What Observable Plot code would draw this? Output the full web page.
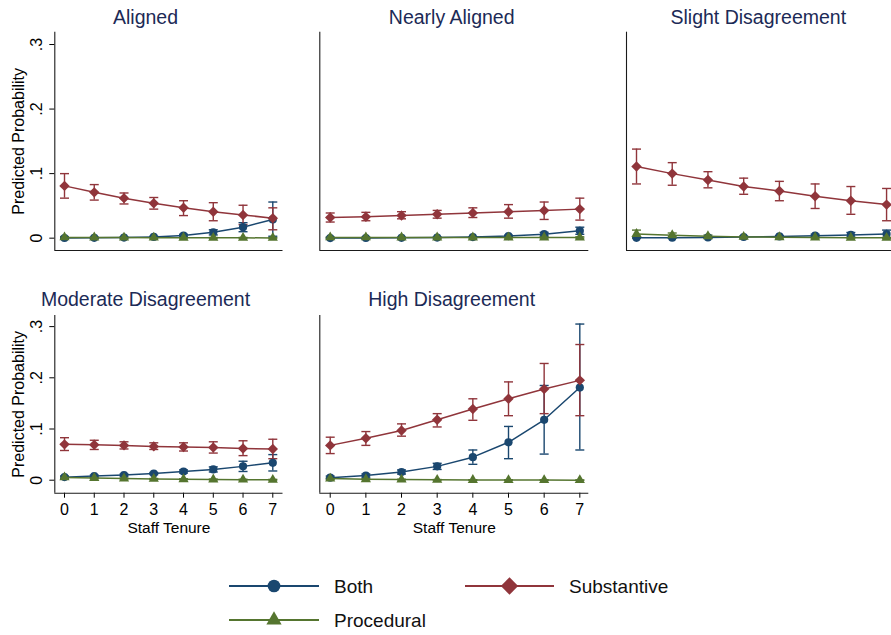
<!DOCTYPE html>
<html>
<head>
<meta charset="utf-8">
<script src="https://cdn.jsdelivr.net/npm/d3@7"></script>
<script src="https://cdn.jsdelivr.net/npm/@observablehq/plot@0.6"></script>
<style>
  html, body { margin: 0; padding: 0; background: #fff; }
  body { width: 891px; height: 635px; overflow: hidden; position: relative;
         font-family: "Liberation Sans", Arial, Helvetica, sans-serif; }
  .panel { position: absolute; }
  .title { position: absolute; width: 300px; text-align: center; font-size: 19.5px;
           line-height: 19.5px; color: #1c2a56; white-space: nowrap; }
  #legend { position: absolute; left: 0; top: 560px; }
</style>
</head>
<body>
<script>
// ---------------- DATA ----------------
const tenure = [0, 1, 2, 3, 4, 5, 6, 7];
const seriesNames = ["Both", "Substantive", "Procedural"];
const panelTitles = ["Aligned", "Nearly Aligned", "Slight Disagreement", "Moderate Disagreement", "High Disagreement"];
const yTicks = [0, 0.1, 0.2, 0.3];
const yTickLabels = ["0", ".1", ".2", ".3"];
const xTitle = "Staff Tenure";
const yTitle = "Predicted Probability";

// Aligned
const aligned_both     = [0.0003, 0.0005, 0.001, 0.002, 0.004, 0.009, 0.017, 0.029];
const aligned_both_lo  = [0.0000, 0.0001, 0.0003, 0.001, 0.002, 0.005, 0.010, 0.003];
const aligned_both_hi  = [0.0006, 0.0009, 0.0017, 0.003, 0.006, 0.013, 0.024, 0.056];
const aligned_subst    = [0.081, 0.071, 0.062, 0.054, 0.047, 0.041, 0.036, 0.031];
const aligned_subst_lo = [0.062, 0.059, 0.053, 0.045, 0.035, 0.027, 0.021, 0.013];
const aligned_subst_hi = [0.100, 0.083, 0.070, 0.063, 0.058, 0.055, 0.051, 0.047];
const aligned_proc     = [0.0012, 0.0010, 0.0009, 0.0008, 0.0007, 0.0006, 0.0005, 0.0004];
const aligned_proc_lo  = [0.0000, 0.0002, 0.0003, 0.0003, 0.0002, 0.0001, 0.0000, 0.0000];
const aligned_proc_hi  = [0.0025, 0.0019, 0.0015, 0.0013, 0.0012, 0.0011, 0.0011, 0.0010];

// Nearly Aligned
const nearly_both     = [0.0002, 0.0003, 0.0005, 0.0009, 0.0017, 0.0033, 0.0062, 0.0115];
const nearly_both_lo  = [0.0000, 0.0001, 0.0002, 0.0005, 0.0010, 0.0020, 0.0035, 0.0060];
const nearly_both_hi  = [0.0005, 0.0006, 0.0009, 0.0013, 0.0024, 0.0046, 0.0090, 0.0170];
const nearly_subst    = [0.032, 0.033, 0.035, 0.037, 0.039, 0.041, 0.043, 0.045];
const nearly_subst_lo = [0.025, 0.027, 0.030, 0.031, 0.032, 0.031, 0.029, 0.028];
const nearly_subst_hi = [0.039, 0.040, 0.041, 0.043, 0.047, 0.052, 0.056, 0.062];
const nearly_proc     = [0.0012, 0.0012, 0.0011, 0.0011, 0.0011, 0.0011, 0.0011, 0.0011];
const nearly_proc_lo  = [0.0004, 0.0005, 0.0005, 0.0005, 0.0004, 0.0003, 0.0002, 0.0001];
const nearly_proc_hi  = [0.0020, 0.0019, 0.0017, 0.0017, 0.0018, 0.0019, 0.0020, 0.0021];

// Slight Disagreement
const slight_both     = [0.0005, 0.0008, 0.0012, 0.0018, 0.0027, 0.0038, 0.0050, 0.0065];
const slight_both_lo  = [0.0000, 0.0002, 0.0005, 0.0009, 0.0013, 0.0015, 0.0012, 0.0005];
const slight_both_hi  = [0.0012, 0.0014, 0.0019, 0.0027, 0.0041, 0.0061, 0.0088, 0.0125];
const slight_subst    = [0.111, 0.100, 0.090, 0.080, 0.073, 0.065, 0.058, 0.052];
const slight_subst_lo = [0.084, 0.082, 0.078, 0.068, 0.058, 0.046, 0.037, 0.027];
const slight_subst_hi = [0.138, 0.117, 0.103, 0.093, 0.088, 0.084, 0.080, 0.077];
const slight_proc     = [0.0065, 0.0045, 0.0030, 0.0020, 0.0014, 0.0010, 0.0007, 0.0005];
const slight_proc_lo  = [0.0005, 0.0010, 0.0012, 0.0008, 0.0004, 0.0001, 0.0000, 0.0000];
const slight_proc_hi  = [0.0125, 0.0080, 0.0048, 0.0032, 0.0024, 0.0019, 0.0016, 0.0013];

// Moderate Disagreement
const moderate_both     = [0.006, 0.008, 0.010, 0.013, 0.017, 0.021, 0.027, 0.034];
const moderate_both_lo  = [0.004, 0.006, 0.008, 0.011, 0.014, 0.016, 0.017, 0.018];
const moderate_both_hi  = [0.008, 0.010, 0.012, 0.015, 0.020, 0.026, 0.037, 0.050];
const moderate_subst    = [0.070, 0.069, 0.068, 0.066, 0.065, 0.064, 0.062, 0.061];
const moderate_subst_lo = [0.058, 0.060, 0.061, 0.060, 0.057, 0.053, 0.048, 0.042];
const moderate_subst_hi = [0.083, 0.078, 0.075, 0.073, 0.073, 0.075, 0.077, 0.080];
const moderate_proc     = [0.0055, 0.0043, 0.0033, 0.0025, 0.0019, 0.0014, 0.0011, 0.0008];
const moderate_proc_lo  = [0.0035, 0.0030, 0.0024, 0.0017, 0.0011, 0.0006, 0.0003, 0.0001];
const moderate_proc_hi  = [0.0075, 0.0056, 0.0042, 0.0033, 0.0027, 0.0022, 0.0019, 0.0016];

// High Disagreement
const high_both     = [0.005, 0.009, 0.016, 0.027, 0.045, 0.074, 0.118, 0.181];
const high_both_lo  = [0.003, 0.006, 0.012, 0.021, 0.031, 0.042, 0.051, 0.059];
const high_both_hi  = [0.008, 0.012, 0.020, 0.033, 0.059, 0.105, 0.185, 0.305];
const high_subst    = [0.068, 0.082, 0.097, 0.118, 0.139, 0.159, 0.178, 0.195];
const high_subst_lo = [0.052, 0.068, 0.086, 0.104, 0.117, 0.126, 0.130, 0.126];
const high_subst_hi = [0.084, 0.095, 0.110, 0.130, 0.159, 0.192, 0.228, 0.265];
const high_proc     = [0.0032, 0.0020, 0.0012, 0.0008, 0.0005, 0.0003, 0.0002, 0.0001];
const high_proc_lo  = [0.0018, 0.0012, 0.0006, 0.0003, 0.0001, 0.0000, 0.0000, 0.0000];
const high_proc_hi  = [0.0046, 0.0028, 0.0018, 0.0013, 0.0009, 0.0007, 0.0005, 0.0004];

// ---------------- STYLE ----------------
const colors = ["#1a476f", "#90353b", "#55752f"];
const symbols = ["circle", "diamond2", "triangle"];
const symbolR = [4.1, 4.7, 3.8];
const FONT = '"Liberation Sans", Arial, Helvetica, sans-serif';

const capSymbol = { draw(ctx, size) { const w = Math.sqrt(size / Math.PI); ctx.moveTo(-w, 0); ctx.lineTo(w, 0); } };

function rows(est, lo, hi) {
  return tenure.map((t, i) => ({ t, v: est[i], lo: lo[i], hi: hi[i] }));
}

const panelData = [
  [rows(aligned_both, aligned_both_lo, aligned_both_hi), rows(aligned_subst, aligned_subst_lo, aligned_subst_hi), rows(aligned_proc, aligned_proc_lo, aligned_proc_hi)],
  [rows(nearly_both, nearly_both_lo, nearly_both_hi), rows(nearly_subst, nearly_subst_lo, nearly_subst_hi), rows(nearly_proc, nearly_proc_lo, nearly_proc_hi)],
  [rows(slight_both, slight_both_lo, slight_both_hi), rows(slight_subst, slight_subst_lo, slight_subst_hi), rows(slight_proc, slight_proc_lo, slight_proc_hi)],
  [rows(moderate_both, moderate_both_lo, moderate_both_hi), rows(moderate_subst, moderate_subst_lo, moderate_subst_hi), rows(moderate_proc, moderate_proc_lo, moderate_proc_hi)],
  [rows(high_both, high_both_lo, high_both_hi), rows(high_subst, high_subst_lo, high_subst_hi), rows(high_proc, high_proc_lo, high_proc_hi)]
];

// layout of each panel (pixels)
const layout = [
  { left: 0,   top: 0,   width: 295, height: 260, mL: 54.3, mR: 12.5, mT: 31.7, mB: 10,   xDom: [-0.326, 7.343], yDom: [-0.0191, 0.3191], yAxis: true,  xAxis: false, titleC: 145.5, titleTop: 7.8 },
  { left: 300, top: 0,   width: 295, height: 260, mL: 19.3, mR: 6.7,  mT: 31.7, mB: 10,   xDom: [-0.292, 7.252], yDom: [-0.0191, 0.3191], yAxis: false, xAxis: false, titleC: 451.7, titleTop: 7.8 },
  { left: 606, top: 0,   width: 290, height: 260, mL: 20,   mR: 1,    mT: 31.7, mB: 10,   xDom: [-0.280, 7.250], yDom: [-0.0191, 0.3191], yAxis: false, xAxis: false, titleC: 758.3, titleTop: 7.8 },
  { left: 0,   top: 280, width: 295, height: 260, mL: 54.3, mR: 12.5, mT: 35,   mB: 47.3, xDom: [-0.326, 7.343], yDom: [-0.0254, 0.3217], yAxis: true,  xAxis: true,  titleC: 145.5, titleTop: 290.2 },
  { left: 300, top: 280, width: 295, height: 260, mL: 19.3, mR: 6.7,  mT: 35,   mB: 47.3, xDom: [-0.292, 7.252], yDom: [-0.0254, 0.3217], yAxis: false, xAxis: true,  titleC: 451.7, titleTop: 290.2 }
];

layout.forEach((L, p) => {
  const series = panelData[p];
  const marks = [];
  // axis lines
  marks.push(Plot.ruleX([L.xDom[0]], { stroke: "#1a1a1a", strokeWidth: 1.1 }));
  marks.push(Plot.ruleY([L.yDom[0]], { stroke: "#1a1a1a", strokeWidth: 1.1 }));
  // confidence intervals first
  series.forEach((data, s) => {
    marks.push(Plot.ruleX(data, { x: "t", y1: "lo", y2: "hi", stroke: colors[s], strokeWidth: 1.4 }));
    marks.push(Plot.dot(data, { x: "t", y: "lo", symbol: capSymbol, r: 4.5, fill: "none", stroke: colors[s], strokeWidth: 1.4 }));
    marks.push(Plot.dot(data, { x: "t", y: "hi", symbol: capSymbol, r: 4.5, fill: "none", stroke: colors[s], strokeWidth: 1.4 }));
  });
  // connected lines with markers
  series.forEach((data, s) => {
    marks.push(Plot.line(data, { x: "t", y: "v", stroke: colors[s], strokeWidth: 1.5 }));
    marks.push(Plot.dot(data, { x: "t", y: "v", symbol: symbols[s], r: symbolR[s], fill: colors[s], stroke: "none" }));
  });
  if (L.yAxis) {
    marks.push(Plot.text(yTicks, { y: d => d, text: (d, i) => yTickLabels[i], frameAnchor: "left", textAnchor: "middle", lineAnchor: "middle", dx: -17.6, rotate: -90, fontSize: 16, fill: "#000" }));
    marks.push(Plot.text([yTitle], { text: d => d, frameAnchor: "left", textAnchor: "middle", lineAnchor: "middle", dx: -36.3, rotate: -90, fontSize: 16, fill: "#000" }));
  }
  if (L.xAxis) {
    marks.push(Plot.text([xTitle], { text: d => d, frameAnchor: "bottom", lineAnchor: "middle", dy: 34.5, fontSize: 15.5, fill: "#000" }));
  }
  const chart = Plot.plot({
    width: L.width, height: L.height,
    marginLeft: L.mL, marginRight: L.mR, marginTop: L.mT, marginBottom: L.mB,
    x: L.xAxis
      ? { domain: L.xDom, ticks: tenure, tickSize: 5, tickPadding: 5, tickFormat: d => String(d), label: null }
      : { domain: L.xDom, axis: null },
    y: L.yAxis
      ? { domain: L.yDom, ticks: yTicks, tickSize: 5, tickFormat: () => "", label: null }
      : { domain: L.yDom, axis: null },
    style: { fontFamily: FONT, fontSize: "16px", color: "#000", background: "transparent", overflow: "visible" },
    marks
  });
  chart.classList.add("panel");
  chart.style.left = L.left + "px";
  chart.style.top = L.top + "px";
  document.body.appendChild(chart);

  const t = document.createElement("div");
  t.className = "title";
  t.textContent = panelTitles[p];
  t.style.left = (L.titleC - 150) + "px";
  t.style.top = L.titleTop + "px";
  document.body.appendChild(t);
});

// ---------------- LEGEND ----------------
const legendPos = [
  { x0: 229, x1: 319, y: 26, tx: 334 },
  { x0: 465, x1: 554, y: 26, tx: 569 },
  { x0: 229, x1: 319, y: 60, tx: 334 }
];
const legendSym = [
  d3.symbol(d3.symbolCircle, 127)(),
  d3.symbol(d3.symbolSquare, 150)(),
  d3.symbol(d3.symbolTriangle, 101)()
];
const leg = d3.create("svg").attr("id", "legend").attr("width", 891).attr("height", 75);
seriesNames.forEach((name, s) => {
  const P = legendPos[s];
  const g = leg.append("g");
  g.append("line").attr("x1", P.x0).attr("x2", P.x1).attr("y1", P.y).attr("y2", P.y)
    .attr("stroke", colors[s]).attr("stroke-width", 2);
  g.append("path").attr("d", legendSym[s]).attr("fill", colors[s])
    .attr("transform", `translate(${(P.x0 + P.x1) / 2},${P.y})` + (s === 1 ? " rotate(45)" : ""));
  g.append("text").attr("x", P.tx).attr("y", P.y).attr("dy", "0.35em")
    .attr("font-family", FONT).attr("font-size", 19).attr("fill", "#111").text(name);
});
document.body.appendChild(leg.node());
</script>
</body>
</html>
